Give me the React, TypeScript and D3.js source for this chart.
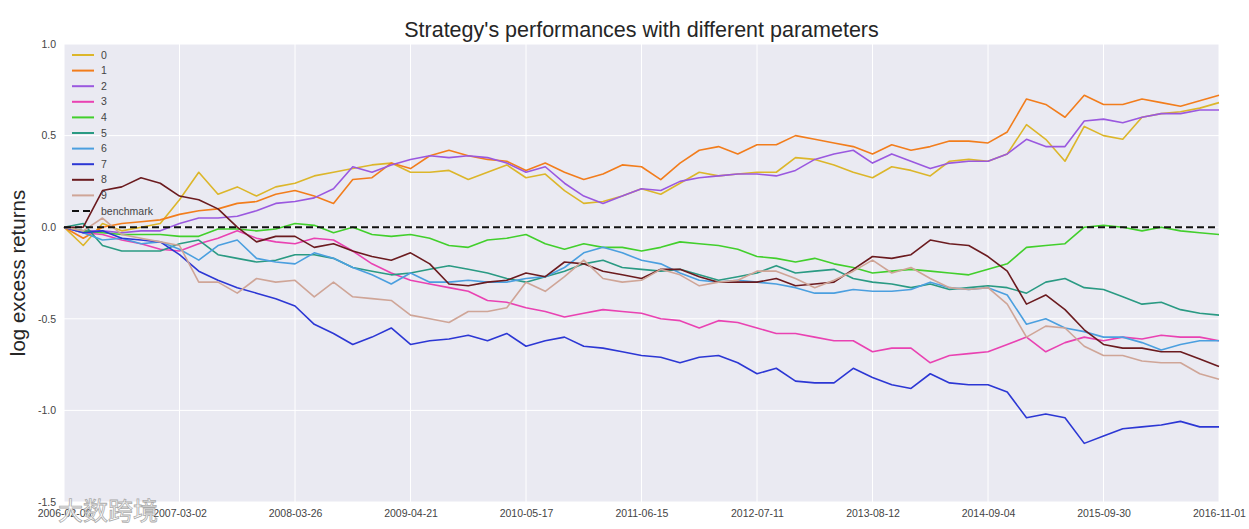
import React, { useRef, useEffect } from 'react';
import * as d3 from 'd3';

// x tick labels (one every 6 samples)
const tickLabels = [
    '2006-02-06', '2007-03-02', '2008-03-26', '2009-04-21', '2010-05-17', '2011-06-15',
    '2012-07-11', '2013-08-12', '2014-09-04', '2015-09-30', '2016-11-01',
];

const seriesNames = ['0', '1', '2', '3', '4', '5', '6', '7', '8', '9'];
const seriesColors = ['#dcb62a', '#f27d1c', '#9a58df', '#e942b2', '#42cf2c', '#2a9a83', '#4b9fdf', '#2c37d4', '#6b1b1f', '#cfa597'];

// log excess returns (61 samples)
const s0 = [0.0, -0.1, 0.02, -0.02, 0.0, 0.02, 0.15, 0.3, 0.18, 0.22, 0.17, 0.22, 0.24, 0.28, 0.3, 0.32, 0.34, 0.35, 0.3, 0.3, 0.31, 0.26, 0.3, 0.34, 0.27, 0.29, 0.2, 0.13, 0.14, 0.17, 0.21, 0.18, 0.24, 0.3, 0.28, 0.29, 0.3, 0.3, 0.38, 0.37, 0.34, 0.3, 0.27, 0.33, 0.31, 0.28, 0.36, 0.37, 0.36, 0.4, 0.56, 0.48, 0.36, 0.55, 0.5, 0.48, 0.6, 0.62, 0.63, 0.65, 0.68];
const s1 = [0.0, -0.06, 0.0, 0.02, 0.03, 0.04, 0.07, 0.09, 0.1, 0.13, 0.14, 0.18, 0.2, 0.17, 0.13, 0.26, 0.27, 0.35, 0.32, 0.39, 0.42, 0.39, 0.37, 0.36, 0.31, 0.35, 0.3, 0.26, 0.29, 0.34, 0.33, 0.26, 0.35, 0.42, 0.44, 0.4, 0.45, 0.45, 0.5, 0.48, 0.46, 0.44, 0.4, 0.45, 0.42, 0.44, 0.47, 0.47, 0.46, 0.52, 0.7, 0.67, 0.6, 0.72, 0.67, 0.67, 0.7, 0.68, 0.66, 0.69, 0.72];
const s2 = [0.0, -0.02, -0.02, -0.03, -0.02, -0.02, 0.02, 0.05, 0.05, 0.06, 0.09, 0.13, 0.14, 0.16, 0.21, 0.33, 0.3, 0.34, 0.37, 0.39, 0.38, 0.39, 0.38, 0.35, 0.3, 0.33, 0.24, 0.17, 0.13, 0.17, 0.21, 0.2, 0.25, 0.27, 0.28, 0.29, 0.29, 0.28, 0.31, 0.37, 0.4, 0.42, 0.35, 0.4, 0.36, 0.32, 0.35, 0.36, 0.36, 0.4, 0.48, 0.44, 0.44, 0.58, 0.59, 0.57, 0.6, 0.62, 0.62, 0.64, 0.64];
const s3 = [0.0, -0.03, -0.04, -0.07, -0.09, -0.12, -0.13, -0.09, -0.06, -0.02, -0.06, -0.08, -0.09, -0.06, -0.07, -0.13, -0.2, -0.25, -0.29, -0.31, -0.33, -0.35, -0.4, -0.41, -0.44, -0.46, -0.49, -0.47, -0.45, -0.46, -0.47, -0.5, -0.51, -0.55, -0.51, -0.52, -0.55, -0.58, -0.58, -0.6, -0.62, -0.62, -0.68, -0.66, -0.66, -0.74, -0.7, -0.69, -0.68, -0.64, -0.6, -0.68, -0.63, -0.6, -0.62, -0.6, -0.61, -0.59, -0.6, -0.6, -0.62];
const s4 = [0.0, -0.02, -0.03, -0.04, -0.04, -0.04, -0.05, -0.05, -0.01, -0.01, -0.02, -0.01, 0.02, 0.01, -0.03, 0.0, -0.04, -0.05, -0.04, -0.06, -0.1, -0.11, -0.07, -0.06, -0.04, -0.09, -0.12, -0.09, -0.11, -0.11, -0.13, -0.11, -0.08, -0.09, -0.1, -0.12, -0.16, -0.17, -0.19, -0.17, -0.2, -0.22, -0.25, -0.24, -0.23, -0.24, -0.25, -0.26, -0.23, -0.2, -0.11, -0.1, -0.09, 0.0, 0.01, 0.0, -0.02, 0.0, -0.02, -0.03, -0.04];
const s5 = [0.0, 0.02, -0.1, -0.13, -0.13, -0.13, -0.09, -0.07, -0.15, -0.17, -0.19, -0.18, -0.15, -0.15, -0.17, -0.22, -0.24, -0.26, -0.25, -0.23, -0.21, -0.23, -0.25, -0.28, -0.3, -0.27, -0.24, -0.2, -0.18, -0.22, -0.23, -0.24, -0.23, -0.26, -0.29, -0.27, -0.25, -0.21, -0.25, -0.24, -0.23, -0.28, -0.3, -0.31, -0.33, -0.31, -0.34, -0.33, -0.32, -0.33, -0.36, -0.3, -0.28, -0.33, -0.34, -0.38, -0.42, -0.41, -0.45, -0.47, -0.48];
const s6 = [0.0, -0.03, -0.07, -0.06, -0.09, -0.08, -0.12, -0.18, -0.1, -0.07, -0.17, -0.19, -0.2, -0.14, -0.17, -0.22, -0.26, -0.31, -0.25, -0.3, -0.3, -0.29, -0.3, -0.3, -0.28, -0.27, -0.22, -0.14, -0.11, -0.14, -0.18, -0.2, -0.25, -0.29, -0.3, -0.29, -0.3, -0.31, -0.33, -0.36, -0.36, -0.34, -0.35, -0.35, -0.34, -0.3, -0.33, -0.34, -0.33, -0.37, -0.53, -0.5, -0.55, -0.57, -0.6, -0.6, -0.63, -0.67, -0.64, -0.62, -0.62];
const s7 = [0.0, -0.03, -0.02, -0.06, -0.07, -0.08, -0.15, -0.24, -0.29, -0.33, -0.36, -0.39, -0.43, -0.53, -0.58, -0.64, -0.6, -0.55, -0.64, -0.62, -0.61, -0.59, -0.62, -0.58, -0.65, -0.62, -0.6, -0.65, -0.66, -0.68, -0.7, -0.71, -0.74, -0.71, -0.7, -0.74, -0.8, -0.77, -0.84, -0.85, -0.85, -0.77, -0.82, -0.86, -0.88, -0.8, -0.85, -0.86, -0.86, -0.9, -1.04, -1.02, -1.04, -1.18, -1.14, -1.1, -1.09, -1.08, -1.06, -1.09, -1.09];
const s8 = [0.0, 0.0, 0.2, 0.22, 0.27, 0.24, 0.17, 0.15, 0.1, 0.0, -0.08, -0.05, -0.05, -0.11, -0.09, -0.13, -0.16, -0.18, -0.14, -0.2, -0.31, -0.32, -0.3, -0.29, -0.25, -0.27, -0.19, -0.2, -0.24, -0.26, -0.28, -0.23, -0.23, -0.27, -0.3, -0.3, -0.3, -0.28, -0.32, -0.31, -0.3, -0.23, -0.16, -0.17, -0.15, -0.07, -0.09, -0.1, -0.16, -0.24, -0.42, -0.37, -0.45, -0.56, -0.64, -0.66, -0.66, -0.68, -0.68, -0.72, -0.76];
const s9 = [0.0, -0.02, 0.05, -0.04, -0.06, -0.08, -0.1, -0.3, -0.3, -0.36, -0.28, -0.3, -0.29, -0.38, -0.3, -0.38, -0.39, -0.4, -0.48, -0.5, -0.52, -0.46, -0.46, -0.44, -0.3, -0.35, -0.27, -0.18, -0.28, -0.3, -0.29, -0.23, -0.26, -0.32, -0.3, -0.29, -0.24, -0.24, -0.28, -0.33, -0.29, -0.24, -0.18, -0.25, -0.22, -0.28, -0.33, -0.34, -0.33, -0.42, -0.6, -0.54, -0.55, -0.65, -0.7, -0.7, -0.73, -0.74, -0.74, -0.8, -0.83];
const benchmark = [0.0, 0.0];

const yTicks = [-1.5, -1.0, -0.5, 0.0, 0.5, 1.0];

const width = 1249;
const height = 529;
const font = 'Liberation Sans, Arial, sans-serif';

const App: React.FC = () => {
    const svgRef = useRef<SVGSVGElement | null>(null);

    useEffect(() => {
        if (!svgRef.current) return;
        const svg = d3.select(svgRef.current);
        svg.selectAll('*').remove();

        const margin = { top: 44, right: 30, bottom: 27, left: 64 };
        const innerWidth = width - margin.left - margin.right;
        const innerHeight = height - margin.top - margin.bottom;
        const series = [s0, s1, s2, s3, s4, s5, s6, s7, s8, s9];
        const lastIdx = s0.length - 1;

        const xScale = d3.scaleLinear().domain([0, lastIdx]).range([0, innerWidth]);
        const yScale = d3.scaleLinear().domain([-1.5, 1.0]).range([innerHeight, 0]);
        const tickIdx = tickLabels.map((_, i) => (i * lastIdx) / (tickLabels.length - 1));

        const g = svg.append('g').attr('transform', `translate(${margin.left},${margin.top})`);

        g.append('rect')
            .attr('width', innerWidth)
            .attr('height', innerHeight)
            .attr('fill', '#eaeaf2');

        // grid
        g.selectAll('.vgrid')
            .data(tickIdx)
            .enter()
            .append('line')
            .attr('x1', (d) => xScale(d))
            .attr('x2', (d) => xScale(d))
            .attr('y1', 0)
            .attr('y2', innerHeight)
            .attr('stroke', '#fff')
            .attr('stroke-width', 1);
        g.selectAll('.hgrid')
            .data(yTicks)
            .enter()
            .append('line')
            .attr('x1', 0)
            .attr('x2', innerWidth)
            .attr('y1', (d) => yScale(d))
            .attr('y2', (d) => yScale(d))
            .attr('stroke', '#fff')
            .attr('stroke-width', 1);

        const line = d3
            .line<number>()
            .x((_, i) => xScale(i))
            .y((d) => yScale(d));

        series.forEach((s, idx) => {
            g.append('path')
                .datum(s)
                .attr('fill', 'none')
                .attr('stroke', seriesColors[idx])
                .attr('stroke-width', 1.6)
                .attr('stroke-linejoin', 'round')
                .attr('d', line);
        });

        const benchLine = d3
            .line<number>()
            .x((_, i) => xScale(i * lastIdx))
            .y((d) => yScale(d));
        g.append('path')
            .datum(benchmark)
            .attr('fill', 'none')
            .attr('stroke', '#111')
            .attr('stroke-width', 2)
            .attr('stroke-dasharray', '7,4')
            .attr('d', benchLine);

        // axes
        const xAxis = d3
            .axisBottom(xScale)
            .tickValues(tickIdx)
            .tickFormat((_, i) => tickLabels[i])
            .tickSize(0)
            .tickPadding(8);
        const xg = g.append('g').attr('transform', `translate(0,${innerHeight})`).call(xAxis);
        xg.select('.domain').remove();
        xg.selectAll('text').attr('font-size', 10.5).attr('fill', '#444').attr('font-family', font);

        const yAxis = d3
            .axisLeft(yScale)
            .tickValues(yTicks)
            .tickFormat((d) => (d as number).toFixed(1))
            .tickSize(0)
            .tickPadding(8);
        const yg = g.append('g').call(yAxis);
        yg.select('.domain').remove();
        yg.selectAll('text').attr('font-size', 10.5).attr('fill', '#444').attr('font-family', font);

        // title & label
        svg.append('text')
            .attr('x', margin.left + innerWidth / 2)
            .attr('y', 37)
            .attr('text-anchor', 'middle')
            .attr('font-size', 21.5)
            .attr('font-family', font)
            .attr('fill', '#262626')
            .text("Strategy's performances with different parameters");

        svg.append('text')
            .attr('transform', `translate(25,${margin.top + innerHeight / 2}) rotate(-90)`)
            .attr('text-anchor', 'middle')
            .attr('font-size', 20.5)
            .attr('font-family', font)
            .attr('fill', '#262626')
            .text('log excess returns');

        // legend
        const legendNames = [...seriesNames, 'benchmark'];
        const legendColors = [...seriesColors, '#111'];
        const lg = svg.append('g').attr('transform', 'translate(72,55)');
        legendNames.forEach((name, i) => {
            const row = lg.append('g').attr('transform', `translate(0,${i * 15.6})`);
            row.append('line')
                .attr('x1', 0)
                .attr('x2', 22)
                .attr('stroke', legendColors[i])
                .attr('stroke-width', 2)
                .attr('stroke-dasharray', name === 'benchmark' ? '7,4' : null);
            row.append('text')
                .attr('x', 29)
                .attr('dy', '0.35em')
                .attr('font-size', 10.5)
                .attr('font-family', font)
                .attr('fill', '#444')
                .text(name);
        });

        // watermark
        svg.append('text')
            .attr('x', 58)
            .attr('y', 520)
            .attr('font-size', 25)
            .attr('font-family', 'Noto Sans CJK SC, sans-serif')
            .attr('fill', '#fff')
            .attr('fill-opacity', 0.85)
            .attr('stroke', '#aaa')
            .attr('stroke-width', 0.8)
            .text('大数跨境');
    }, []);

    return (
        <svg
            ref={svgRef}
            width={width}
            height={height}
            style={{ position: 'absolute', left: 0, top: 0, background: '#fff' }}
        />
    );
};

export default App;
